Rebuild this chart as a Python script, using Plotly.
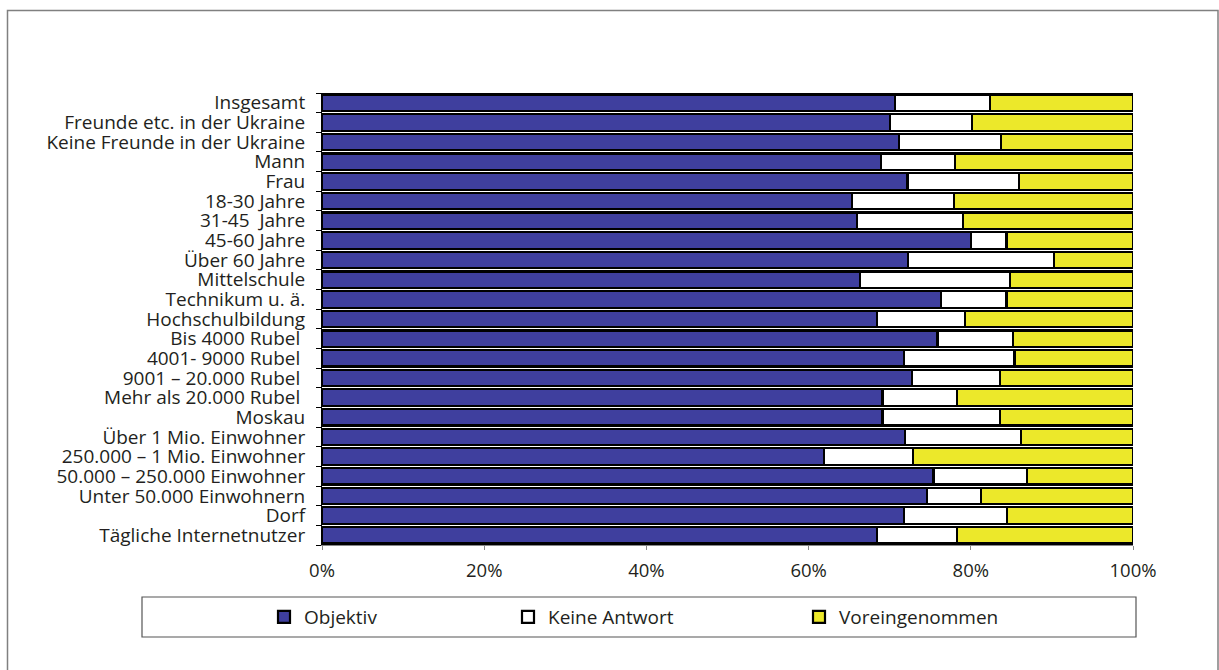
import plotly.graph_objects as go

categories = [
    "Insgesamt", "Freunde etc. in der Ukraine", "Keine Freunde in der Ukraine",
    "Mann", "Frau", "18-30 Jahre", "31-45  Jahre", "45-60 Jahre", "Über 60 Jahre",
    "Mittelschule", "Technikum u. ä.", "Hochschulbildung", "Bis 4000 Rubel ",
    "4001- 9000 Rubel ", "9001 – 20.000 Rubel ", "Mehr als 20.000 Rubel ",
    "Moskau", "Über 1 Mio. Einwohner", "250.000 – 1 Mio. Einwohner",
    "50.000 – 250.000 Einwohner", "Unter 50.000 Einwohnern", "Dorf",
    "Tägliche Internetnutzer",
]
objektiv = [70.7, 70.0, 71.1, 68.9, 72.2, 65.4, 66.0, 80.0, 72.3, 66.3, 76.3, 68.4,
            75.9, 71.8, 72.7, 69.1, 69.1, 71.9, 61.9, 75.4, 74.6, 71.8, 68.4]
keine_antwort = [11.7, 10.1, 12.6, 9.2, 13.7, 12.5, 13.0, 4.4, 18.0, 18.5, 8.1, 10.9,
                 9.3, 13.6, 10.9, 9.2, 14.5, 14.3, 11.0, 11.5, 6.7, 12.7, 9.9]
voreingenommen = [17.6, 19.9, 16.3, 21.9, 14.1, 22.1, 21.0, 15.6, 9.7, 15.2, 15.6, 20.7,
                  14.8, 14.6, 16.4, 21.7, 16.4, 13.8, 27.1, 13.1, 18.7, 15.5, 21.7]
series_names = ["Objektiv", "Keine Antwort", "Voreingenommen"]
series_values = [objektiv, keine_antwort, voreingenommen]
series_colors = ["#3F3F9E", "#FFFFFF", "#ECE82A"]
x_ticks = [0, 20, 40, 60, 80, 100]

W, H = 1219, 670
ml, mr, mt, mb = 322, 86, 93, 125
pw, ph = W - ml - mr, H - mt - mb


def px_x(x):
    return (x - ml) / pw


def px_y(y):
    return (H - mb - y) / ph


legend_ids = ["legend", "legend2", "legend3"]
legend_left_px = [264, 508, 799]

fig = go.Figure()
for name, vals, col, lid in zip(series_names, series_values, series_colors, legend_ids):
    fig.add_trace(go.Bar(
        y=categories, x=vals, name=name, orientation="h", legend=lid,
        marker=dict(color=col, line=dict(color="#000000", width=2.2)),
    ))

legend_common = dict(orientation="h", yanchor="middle", xanchor="left",
                     font=dict(size=19, color="#231F20"), itemwidth=30,
                     bgcolor="rgba(0,0,0,0)", borderwidth=0)
legends = {}
for lid, lx in zip(legend_ids, legend_left_px):
    legends[lid] = dict(legend_common, x=px_x(lx), y=px_y(617))

fig.update_layout(
    width=W, height=H,
    margin=dict(l=ml, r=mr, t=mt, b=mb, pad=0),
    barmode="stack", bargap=0.16,
    paper_bgcolor="white", plot_bgcolor="white",
    font=dict(family="Open Sans", size=16, color="#231F20"),
    showlegend=True,
    shapes=[
        dict(type="rect", xref="paper", yref="paper",
             x0=px_x(7.5), x1=px_x(1218), y0=px_y(700), y1=px_y(10.5),
             line=dict(color="#808080", width=1.5), fillcolor="rgba(0,0,0,0)", layer="below"),
        dict(type="rect", xref="paper", yref="paper",
             x0=px_x(142), x1=px_x(1136), y0=px_y(637), y1=px_y(597),
             line=dict(color="#555555", width=1.2), fillcolor="rgba(0,0,0,0)", layer="below"),
    ],
    **legends,
)
fig.update_xaxes(
    range=[0, 100], tickvals=x_ticks, ticktext=[f"{v}%" for v in x_ticks],
    showgrid=False, zeroline=False, showline=True, linecolor="#888888", linewidth=1,
    ticks="outside", ticklen=4, tickcolor="#888888", ticklabelstandoff=5,
    tickfont=dict(size=18.5), fixedrange=True,
)
fig.update_yaxes(
    autorange="reversed", showgrid=False, zeroline=False,
    tickmode="array", tickvals=categories, ticktext=categories,
    showline=True, linecolor="#000000", linewidth=1,
    ticks="outside", ticklen=5, tickcolor="#000000", tickson="boundaries",
    tickfont=dict(size=19, color="#231F20"), ticklabelstandoff=12,
)

fig.write_html("out.html", config={"displayModeBar": False},
               post_script="document.body.style.margin='0';")
